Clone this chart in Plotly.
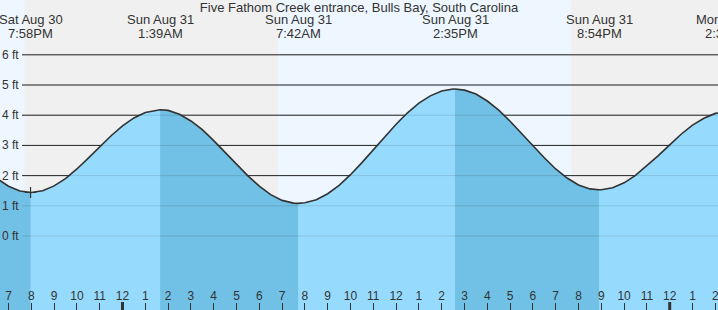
import plotly.graph_objects as go

# ---------------- data ----------------
title_text = "Five Fathom Creek entrance, Bulls Bay, South Carolina"

# hours relative to midnight starting Sun Aug 31 (negative = Sat Aug 30)
curve_hours = [-5.5, -5.0, -4.5, -4.0, -3.5, -3.0, -2.5, -2.0, -1.5, -1.0, -0.5,
               0.0, 0.5, 1.0, 1.5, 2.0, 2.5, 3.0, 3.5, 4.0, 4.5, 5.0, 5.5,
               6.0, 6.5, 7.0, 7.5, 8.0, 8.5, 9.0, 9.5, 10.0, 10.5, 11.0, 11.5,
               12.0, 12.5, 13.0, 13.5, 14.0, 14.5, 15.0, 15.5, 16.0, 16.5, 17.0, 17.5,
               18.0, 18.5, 19.0, 19.5, 20.0, 20.5, 21.0, 21.5, 22.0, 22.5, 23.0, 23.5,
               24.0, 24.5, 25.0, 25.5, 26.0, 26.5]
curve_ft = [1.90, 1.65, 1.49, 1.44, 1.50, 1.66, 1.90, 2.22, 2.58, 2.95, 3.32,
            3.65, 3.91, 4.09, 4.17, 4.16, 4.03, 3.81, 3.52, 3.16, 2.77, 2.37, 1.99,
            1.65, 1.37, 1.18, 1.09, 1.10, 1.20, 1.40, 1.68, 2.03, 2.43, 2.85, 3.28,
            3.70, 4.08, 4.40, 4.64, 4.80, 4.87, 4.83, 4.70, 4.47, 4.17, 3.80, 3.40,
            2.98, 2.59, 2.22, 1.92, 1.69, 1.56, 1.53, 1.60, 1.76, 2.01, 2.32, 2.66,
            3.02, 3.37, 3.67, 3.90, 4.06, 4.12]

extreme_hours = [-4.033, 1.65, 7.70, 14.583, 20.90, 26.55]
extreme_ft = [1.44, 4.18, 1.08, 4.87, 1.53, 4.12]
extreme_kind = ["low", "high", "low", "high", "low", "high"]
extreme_day = ["Sat Aug 30", "Sun Aug 31", "Sun Aug 31", "Sun Aug 31", "Sun Aug 31", "Mon Sep 1"]
extreme_time = ["7:58PM", "1:39AM", "7:42AM", "2:35PM", "8:54PM", "2:33AM"]

night_start = [-4.30, 19.68]
night_end = [6.82, 28.0]

hour_ticks = list(range(-5, 27))
hour_labels = ["7", "8", "9", "10", "11", "12", "1", "2", "3", "4", "5", "6", "7", "8",
               "9", "10", "11", "12", "1", "2", "3", "4", "5", "6", "7", "8", "9", "10",
               "11", "12", "1", "2"]
midnight_ticks = [0, 24]

ft_ticks = [0, 1, 2, 3, 4, 5, 6]
ft_labels = ["0 ft", "1 ft", "2 ft", "3 ft", "4 ft", "5 ft", "6 ft"]

x_range = [-5.373, 26.118]
y_range = [-2.45, 7.815]

# ---------------- style ----------------
W, H = 718, 310
FONT = "Liberation Sans, Arial, sans-serif"
TXT = "#333333"
DAY_BG = "#eef7ff"
NIGHT_BG = "#f0f0f0"
RISE = "#96dbfd"
FALL = "#71c0e5"
FLOOR = -3.0
TOP_SIZE = 13
TITLE_ROW = 7.5
DATE_ROW = 20.0   # px from top
TIME_ROW = 33.0

pts = sorted(zip(curve_hours + extreme_hours, curve_ft + extreme_ft))
all_t = [p[0] for p in pts]
all_h = [p[1] for p in pts]

fig = go.Figure()

# base (rising colour) fill for the whole curve
fig.add_trace(go.Scatter(
    x=all_t + [all_t[-1], all_t[0]], y=all_h + [FLOOR, FLOOR],
    fill="toself", fillcolor=RISE, mode="lines", line=dict(width=0),
    hoverinfo="skip", showlegend=False))

# falling segments (from high to following low) in darker colour
bounds = [-1e9] + extreme_hours + [1e9]
kinds_before = ["high"] + extreme_kind
for i in range(len(bounds) - 1):
    if kinds_before[i] != "high":
        continue
    a, b = bounds[i], bounds[i + 1]
    seg = [(t, h) for t, h in pts if a <= t <= b]
    if len(seg) < 2:
        continue
    st = [s[0] for s in seg]
    sh = [s[1] for s in seg]
    fig.add_trace(go.Scatter(
        x=st + [st[-1], st[0]], y=sh + [FLOOR, FLOOR],
        fill="toself", fillcolor=FALL, mode="lines", line=dict(width=0),
        hoverinfo="skip", showlegend=False))

# tide curve
fig.add_trace(go.Scatter(
    x=all_t, y=all_h, mode="lines", line=dict(color="#333333", width=1.6),
    hoverinfo="skip", showlegend=False))

# current-position cross at first low (on the tick axis, which matches x)
fig.add_trace(go.Scatter(
    x=[extreme_hours[0]], y=[extreme_ft[0]], xaxis="x3", mode="markers",
    marker=dict(symbol="cross-thin", size=8, line=dict(color="#333333", width=1.2)),
    hoverinfo="skip", showlegend=False))

# extreme labels as paper-referenced annotations (positions from the x scale)
span = x_range[1] - x_range[0]
annotations = []
for t, d, tm in zip(extreme_hours, extreme_day, extreme_time):
    fx = (t - x_range[0]) / span
    annotations.append(dict(text=d, x=fx, y=1 - DATE_ROW / H, xref="paper", yref="paper",
                            xanchor="center", yanchor="middle", showarrow=False,
                            font=dict(family=FONT, size=TOP_SIZE, color=TXT)))
    annotations.append(dict(text=tm, x=fx, y=1 - TIME_ROW / H, xref="paper", yref="paper",
                            xanchor="center", yanchor="middle", showarrow=False,
                            font=dict(family=FONT, size=TOP_SIZE, color=TXT)))
# y-axis labels
for v, lab in zip(ft_ticks, ft_labels):
    annotations.append(dict(text=lab, x=20.5 / W, y=v, xref="paper", yref="y",
                            xanchor="right", yanchor="middle", showarrow=False,
                            font=dict(family=FONT, size=12, color=TXT)))

shapes = []
for s, e in zip(night_start, night_end):
    shapes.append(dict(type="rect", xref="x", yref="paper", x0=s, x1=e, y0=0, y1=1,
                       fillcolor=NIGHT_BG, line=dict(width=0), layer="below"))
for v in ft_ticks:
    shapes.append(dict(type="line", xref="paper", yref="y", x0=22 / W, x1=1, y0=v, y1=v,
                       line=dict(color="#2a2a2a", width=1), layer="below"))
    shapes.append(dict(type="line", xref="paper", yref="y", x0=22 / W, x1=1, y0=v, y1=v,
                       line=dict(color="rgba(0,0,0,0.12)", width=1), layer="above"))
for m in midnight_ticks:
    shapes.append(dict(type="line", xref="x", yref="paper", x0=m, x1=m, y0=0, y1=8 / H,
                       line=dict(color="#333333", width=3), layer="above"))

fig.update_layout(
    width=W, height=H,
    margin=dict(l=0, r=0, t=0, b=0, pad=0),
    paper_bgcolor=DAY_BG, plot_bgcolor=DAY_BG,
    font=dict(family=FONT, size=12, color=TXT),
    shapes=shapes,
    annotations=annotations,
    title=dict(text=title_text, x=0.5, xanchor="center", xref="paper",
               y=1 - TITLE_ROW / H, yanchor="middle", yref="paper",
               font=dict(family=FONT, size=TOP_SIZE, color=TXT)),
    xaxis=dict(range=x_range, showgrid=False, zeroline=False, showline=False,
               showticklabels=False, ticks="", fixedrange=True),
    xaxis3=dict(matches="x", overlaying="x", anchor="free", position=8 / H, side="top",
                showgrid=False, zeroline=False, showline=False,
                tickmode="array", tickvals=hour_ticks, ticktext=hour_labels,
                ticks="inside", ticklen=8, tickwidth=1, tickcolor="#333333",
                ticklabelstandoff=0, ticklabeloverflow="allow",
                tickfont=dict(family=FONT, size=12, color=TXT), fixedrange=True),
    yaxis=dict(range=y_range, showgrid=False, zeroline=False, showline=False,
               showticklabels=False, ticks="", fixedrange=True),
    showlegend=False,
)

fig.write_html("out.html")
